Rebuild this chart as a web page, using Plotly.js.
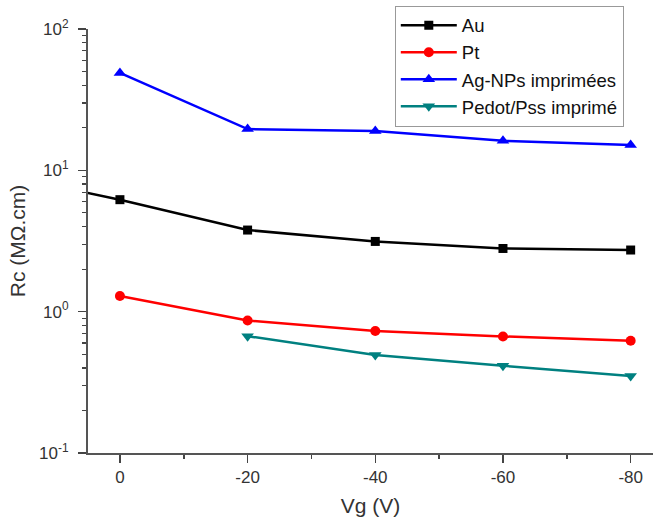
<!DOCTYPE html>
<html>
<head>
<meta charset="utf-8">
<script src="https://cdn.plot.ly/plotly-3.0.1.min.js"></script>
<style>html,body{margin:0;padding:0;background:#fff;}#chart{width:655px;height:523px;}</style>
</head>
<body>
<div id="chart"></div>
<script>
// Data
const vgAu = [10, 0, -20, -40, -60, -80];
const rcAu = [7.7, 6.2, 3.78, 3.14, 2.80, 2.73];
const vgPt = [0, -20, -40, -60, -80];
const rcPt = [1.29, 0.867, 0.729, 0.668, 0.622];
const vgAg = [0, -20, -40, -60, -80];
const rcAg = [48.9, 19.6, 19.0, 16.2, 15.1];
const vgPedot = [-20, -40, -60, -80];
const rcPedot = [0.671, 0.493, 0.414, 0.35];
const yTickVals = [0.1, 1, 10, 100];
const yTickText = ['10<sup>-1</sup>', '10<sup>0</sup>', '10<sup>1</sup>', '10<sup>2</sup>'];
const xTickVals = [0, -20, -40, -60, -80];
const xTickText = ['0', '-20', '-40', '-60', '-80'];

const fam = 'Liberation Sans, Arial, sans-serif';

function tr(name, x, y, color, symbol, size) {
  return {
    type: 'scatter', mode: 'lines+markers', name: name, x: x, y: y,
    line: {color: color, width: 2.5},
    marker: {color: color, symbol: symbol, size: size},
    cliponaxis: true
  };
}

const data = [
  tr('Au', vgAu, rcAu, '#000000', 'square', 9),
  tr('Pt', vgPt, rcPt, '#ff0000', 'circle', 10),
  tr('Ag-NPs imprimées', vgAg, rcAg, '#0000ff', 'triangle-up', 11),
  tr('Pedot/Pss imprimé', vgPedot, rcPedot, '#008080', 'triangle-down', 11)
];

const layout = {
  width: 655, height: 523,
  margin: {l: 88, r: 2, t: 29, b: 70},
  paper_bgcolor: '#fff', plot_bgcolor: '#fff',
  font: {family: fam, size: 16, color: '#333'},
  showlegend: true,
  legend: {
    x: 0.543, y: 1.055, xanchor: 'left', yanchor: 'top',
    bgcolor: '#fff', bordercolor: '#999', borderwidth: 1,
    font: {family: fam, size: 18.5, color: '#111'},
    itemwidth: 56,
    tracegroupgap: 0
  },
  xaxis: {
    range: [5, -83.5],
    tickvals: xTickVals, ticktext: xTickText,
    ticks: 'outside', ticklen: 8, tickwidth: 1.5, tickcolor: '#444',
    minor: {tickvals: [-10, -30, -50, -70], ticks: 'outside', ticklen: 4, tickwidth: 1.5, tickcolor: '#444'},
    showline: true, linecolor: '#555', linewidth: 2,
    showgrid: false, zeroline: false,
    tickfont: {family: fam, size: 17, color: '#333'},
    title: {text: 'Vg (V)', font: {family: fam, size: 21, color: '#333'}, standoff: 12}
  },
  yaxis: {
    type: 'log', range: [-1, 2],
    tickvals: yTickVals, ticktext: yTickText,
    ticks: 'outside', ticklen: 8, tickwidth: 1.5, tickcolor: '#444',
    ticklabelstandoff: 6,
    minor: {dtick: 'D1', ticks: 'outside', ticklen: 4, tickwidth: 1.2, tickcolor: '#444'},
    showline: true, linecolor: '#555', linewidth: 2,
    showgrid: false, zeroline: false,
    tickfont: {family: fam, size: 17, color: '#333'},
    title: {text: 'Rc (MΩ.cm)', font: {family: fam, size: 21, color: '#333'}, standoff: 8}
  }
};

Plotly.newPlot('chart', data, layout, {displayModeBar: false, staticPlot: true});
</script>
</body>
</html>
